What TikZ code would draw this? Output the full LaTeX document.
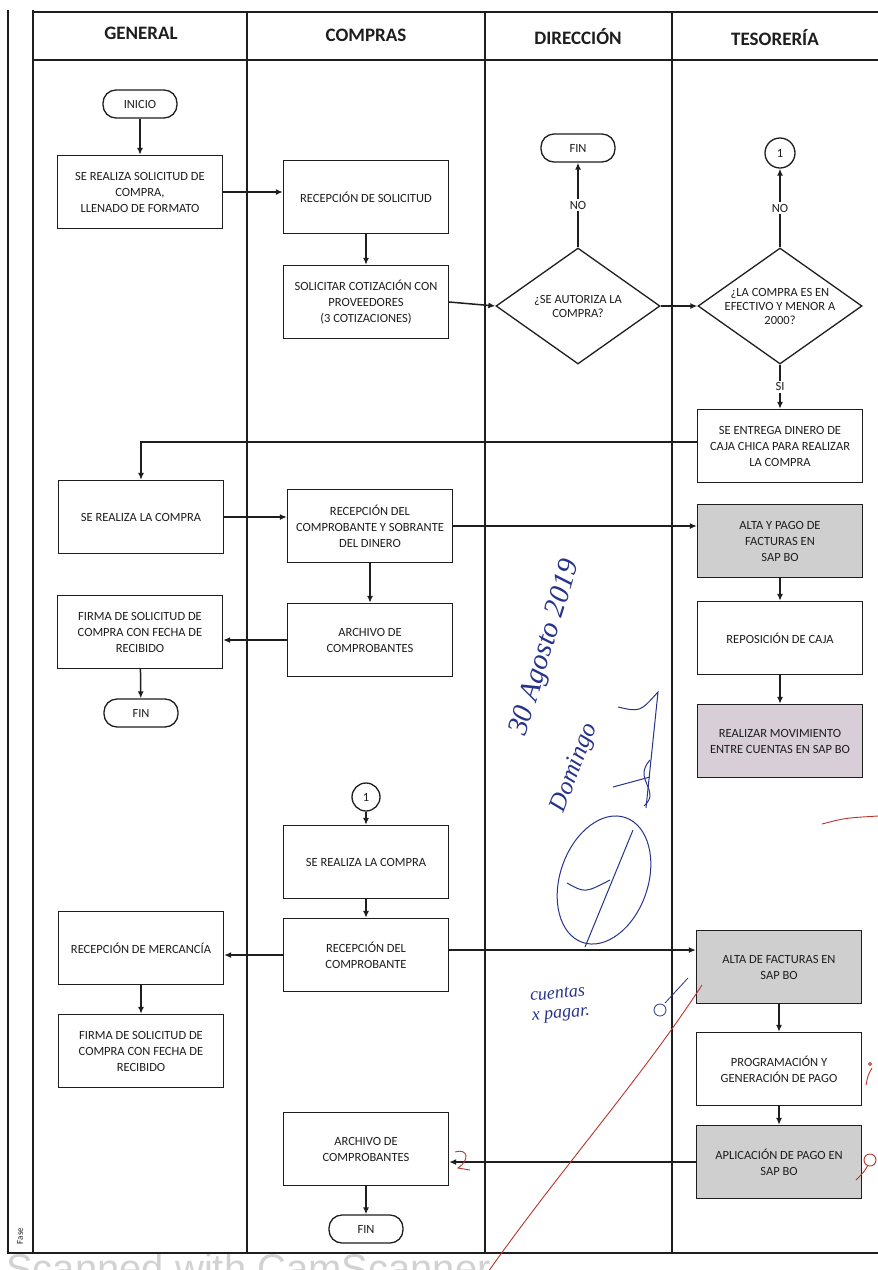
\documentclass[tikz,border=0pt]{standalone}
\usepackage{fontspec}
\setmainfont{Carlito}
\newfontfamily\handfont{Liberation Serif}
\newfontfamily\markfont{Liberation Sans}
\usetikzlibrary{shapes.geometric,arrows.meta,calc}
\definecolor{ink}{HTML}{1E1E1E}
\definecolor{shade}{HTML}{CFCFCF}
\definecolor{shadepink}{HTML}{D8CED8}
\definecolor{pen}{HTML}{27338A}
\definecolor{redpen}{HTML}{B8342E}
\definecolor{scanmark}{HTML}{D2D2D2}
\newcommand\boxfont{\fontsize{12.5}{16}\selectfont}
\newcommand\diafont{\fontsize{12.5}{14}\selectfont}
\newcommand\headfont{\fontsize{19}{22}\selectfont\bfseries}
\begin{document}
\begin{tikzpicture}[x=1pt,y=-1pt,
  lane/.style={draw=ink, line width=1.3pt},
  box/.style={draw=ink, line width=1.3pt, minimum width=165pt, minimum height=73pt,
    align=center, inner sep=2pt, font=\boxfont, text=ink},
  shaded/.style={box, fill=shade},
  term/.style={draw=ink, line width=1.3pt, rounded corners=13pt, minimum width=74pt,
    minimum height=28pt, inner sep=1pt, font=\boxfont, text=ink},
  conn/.style={draw=ink, circle, line width=1.3pt, minimum size=30pt, inner sep=0pt,
    font=\boxfont, text=ink},
  decision/.style={draw=ink, diamond, aspect=1.4, line width=1.3pt, minimum width=164pt,
    minimum height=116pt, inner sep=0pt, align=center, font=\diafont, text=ink},
  flow/.style={draw=ink, line width=1.5pt, -{Latex[length=7pt,width=6pt]}},
  lbl/.style={fill=white, font=\boxfont, text=ink, inner sep=2pt},
  head/.style={font=\headfont, text=ink},
  hand/.style={text=pen, font=\handfont\itshape},
]
\useasboundingbox (0,0) rectangle (878,1270);
\fill[white] (0,0) rectangle (878,1270);

% scanner watermark along the lower edge
\node[anchor=base west, text=scanmark, font=\markfont\fontsize{40}{40}\selectfont,
  inner sep=0pt] (scan) at (6,1282) {Scanned with CamScanner};

% swimlane frame
\draw[lane] (8,10) -- (8,1253) -- (878,1253);
\draw[lane] (33,10) -- (33,1253);
\draw[lane] (33,12) -- (878,12);
\draw[lane] (33,60) -- (878,60);
\foreach \x in {247,485,672} \draw[lane] (\x,12) -- (\x,1253);
\node[rotate=90, font=\fontsize{9}{10}\selectfont, text=ink] (fase) at (20,1236) {Fase};

% lane headers
\node[head] (hgen) at (141,33) {GENERAL};
\node[head] (hcom) at (366,35) {COMPRAS};
\node[head] (hdir) at (578,37) {DIRECCIÓN};
\node[head] (hteso) at (775,38) {TESORERÍA};

% first block: request and authorisation
\node[term] (ini) at (140,104) {INICIO};
\node[box] (sol) at (140,192) {SE REALIZA SOLICITUD DE\\COMPRA,\\LLENADO DE FORMATO};
\node[box] (rec) at (366,197) {RECEPCIÓN DE SOLICITUD};
\node[box] (cot) at (366,302) {SOLICITAR COTIZACIÓN CON\\PROVEEDORES\\(3 COTIZACIONES)};
\node[decision] (aut) at (578,306) {¿SE AUTORIZA LA\\COMPRA?};
\node[term] (fin1) at (578,148) {FIN};
\node[decision] (efe) at (780,306) {¿LA COMPRA ES EN\\EFECTIVO Y MENOR A\\2000?};
\node[conn] (cir1) at (780,153) {1};
\node[box] (ent) at (780,446) {SE ENTREGA DINERO DE\\CAJA CHICA PARA REALIZAR\\LA COMPRA};

% petty cash purchase
\node[box] (comp1) at (141,517) {SE REALIZA LA COMPRA};
\node[box] (recs) at (370,526) {RECEPCIÓN DEL\\COMPROBANTE Y SOBRANTE\\DEL DINERO};
\node[shaded] (alta1) at (780,541) {ALTA Y PAGO DE\\FACTURAS EN\\SAP BO};
\node[box] (firma1) at (140,632) {FIRMA DE SOLICITUD DE\\COMPRA CON FECHA DE\\RECIBIDO};
\node[box] (arch1) at (370,640) {ARCHIVO DE\\COMPROBANTES};
\node[term] (fin2) at (141,713) {FIN};
\node[box] (repo) at (780,638) {REPOSICIÓN DE CAJA};
\node[box, fill=shadepink] (movi) at (780,741) {REALIZAR MOVIMIENTO\\ENTRE CUENTAS EN SAP BO};

% regular purchase (connector 1)
\node[conn, minimum size=28pt] (cir2) at (366,797) {1};
\node[box] (comp2) at (366,862) {SE REALIZA LA COMPRA};
\node[box] (recc) at (366,955) {RECEPCIÓN DEL\\COMPROBANTE};
\node[box] (merc) at (141,948) {RECEPCIÓN DE MERCANCÍA};
\node[box] (firma2) at (141,1051) {FIRMA DE SOLICITUD DE\\COMPRA CON FECHA DE\\RECIBIDO};
\node[shaded] (alta2) at (779,967) {ALTA DE FACTURAS EN\\SAP BO};
\node[box] (prog) at (779,1069) {PROGRAMACIÓN Y\\GENERACIÓN DE PAGO};
\node[shaded] (apl) at (779,1162) {APLICACIÓN DE PAGO EN\\SAP BO};
\node[box] (arch2) at (366,1149) {ARCHIVO DE\\COMPROBANTES};
\node[term] (fin3) at (366,1229) {FIN};

% connectors
\draw[flow] (ini) -- (sol);
\draw[flow] (sol.east) -- (sol.east -| rec.west);
\draw[flow] (rec) -- (cot);
\draw[flow] (cot.east) -- (aut.west);
\draw[flow] (aut.north) -- node[lbl] (no1) {NO} (fin1.south);
\draw[flow] (aut.east) -- (efe.west);
\draw[flow] (efe.north) -- node[lbl] (no2) {NO} (cir1.south);
\draw[flow] (efe.south) -- node[lbl] (si1) {SI} (ent.north);
\draw[flow] ([yshift=4pt]ent.west) -| (comp1.north);
\draw[flow] (comp1.east) -- (comp1.east -| recs.west);
\draw[flow] (recs.east) -- (recs.east -| alta1.west);
\draw[flow] (recs) -- (arch1);
\draw[flow] (arch1.west) -- (arch1.west -| firma1.east);
\draw[flow] (firma1) -- (fin2);
\draw[flow] (alta1) -- (repo);
\draw[flow] (repo) -- (movi);
\draw[flow] (cir2) -- (comp2);
\draw[flow] (comp2) -- (recc);
\draw[flow] (recc.west) -- (recc.west -| merc.east);
\draw[flow] ([yshift=5pt]recc.east) -- ([yshift=5pt]recc.east -| alta2.west);
\draw[flow] (merc) -- (firma2);
\draw[flow] (alta2) -- (prog);
\draw[flow] (prog) -- (apl);
\draw[flow] (apl.west) -- (apl.west -| arch2.east);
\draw[flow] (arch2) -- (fin3);

% handwritten date and signature
\node[hand, rotate=73, font=\handfont\itshape\fontsize{29}{30}\selectfont] (fecha) at (546,648) {30 Agosto 2019};
\node[hand, rotate=69, font=\handfont\itshape\fontsize{25}{26}\selectfont] (rubrica) at (575,768) {Domingo};
\begin{scope}[pen, line width=1pt]
  \draw[rotate around={-19:(604,880)}] (604,880) ellipse [x radius=44pt, y radius=66pt];
  \draw (585,947) -- (633,830);
  \draw (567,883) .. controls (585,893) .. (610,880);
  \draw (618,707) .. controls (640,712) .. (658,692) -- (646,808);
  \draw (613,787) -- (650,777);
  \draw (650,760) .. controls (632,780) and (662,790) .. (644,806);
\end{scope}
\node[hand, rotate=5, align=left, font=\handfont\itshape\fontsize{18}{20}\selectfont] (nota) at (560,1005) {cuentas\\x pagar.};
\draw[pen, line width=0.8pt] (688,978) -- (665,1003);
\draw[pen, line width=0.8pt] (660,1010) circle [radius=6pt];

% red pencil marks
\begin{scope}[redpen, line width=0.9pt]
  \draw (702,985) .. controls (640,1080) and (560,1170) .. (488,1272);
  \draw (822,824) .. controls (845,818) .. (878,816);
  \draw (866,1085) .. controls (868,1075) .. (872,1068);
  \draw (870,1064) circle [radius=1.5pt];
  \draw (856,1180) .. controls (864,1172) .. (868,1165);
  \draw (870,1160) circle [radius=6pt];
  \draw (455,1152) .. controls (468,1148) and (470,1160) .. (458,1168) -- (470,1170);
\end{scope}
\end{tikzpicture}
\end{document}
